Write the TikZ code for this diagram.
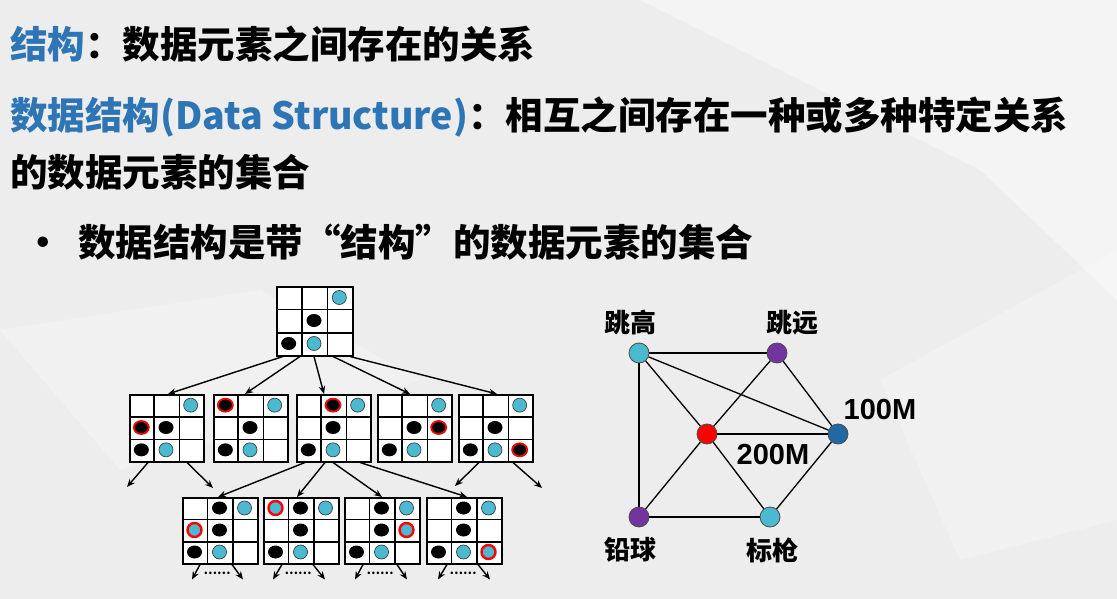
\documentclass[tikz,border=0pt]{standalone}
\usepackage{fontspec}
\usetikzlibrary{arrows.meta,calc,shapes.geometric}
\newfontfamily\cjk{Noto Sans CJK SC}
\newfontfamily\lat{Liberation Sans}
\definecolor{tblue}{HTML}{2E75B6}
\definecolor{dotcyan}{HTML}{4BB9CF}
\definecolor{gpurple}{HTML}{7334A0}
\definecolor{gdblue}{HTML}{1F6AA5}
\definecolor{bgc}{HTML}{EDEDED}

% one 3x3 board: name, x, y (north west), width, height, pieces r/c/style
\newcommand{\drawboard}[6]{%
  \node[boardbox, minimum width=#4pt, minimum height=#5pt, anchor=north west] (#1) at (#2,#3) {};
  \foreach \k in {1,2} {
    \draw[gridline] ($(#1.north west)!\k/3!(#1.north east)$) -- ($(#1.south west)!\k/3!(#1.south east)$);
    \draw[gridline] ($(#1.north west)!\k/3!(#1.south west)$) -- ($(#1.north east)!\k/3!(#1.south east)$);
  }
  \foreach \r/\c/\t in {#6} {
    \node[\t] (#1-\r\c) at ($(#1.north west)+({(\c+0.5)*#4/3},{-(\r+0.5)*#5/3})$) {};
  }%
}

\tikzset{
  txt/.style={font=\cjk\bfseries\fontsize{37.5}{40}\selectfont, inner sep=0pt},
  glabel/.style={font=\cjk\bfseries\fontsize{26}{28}\selectfont, inner sep=0pt},
  nlabel/.style={font=\lat\bfseries\fontsize{29}{30}\selectfont, inner sep=0pt},
  boardbox/.style={draw, fill=white, line width=1.5pt, inner sep=0pt},
  gridline/.style={line width=1.5pt},
  blk/.style={ellipse, fill=black, minimum width=15pt, minimum height=13pt, inner sep=0pt},
  cyn/.style={circle, fill=dotcyan, draw=black!75, line width=0.7pt, minimum size=14pt, inner sep=0pt},
  blkr/.style={blk, draw=red, line width=1.8pt},
  cynr/.style={cyn, draw=red, line width=2.4pt},
  arr/.style={-{Stealth[length=8pt,width=6.5pt]}, line width=1.4pt},
  more/.style={font=\cjk\bfseries\fontsize{12}{12}\selectfont, inner sep=0pt},
  gnode/.style={circle, minimum size=20pt, inner sep=0pt, draw=black!70, line width=0.8pt},
  gedge/.style={line width=1.3pt},
}

\begin{document}
\begin{tikzpicture}[x=1pt,y=1pt]
\useasboundingbox (0,0) rectangle (1117,-599);
% backdrop
\fill[bgc] (0,0) rectangle (1117,-599);
\fill[white, opacity=0.4] (640,0) -- (1117,0) -- (1117,-300) -- (980,-170) -- cycle;
\fill[white, opacity=0.25] (0,-330) -- (260,-290) -- (420,-380) -- (120,-470) -- cycle;
\fill[white, opacity=0.25] (880,-380) -- (1117,-250) -- (1117,-520) -- (960,-560) -- cycle;

% heading text
\node[txt, anchor=base west] (l1) at (10,-59) {\textcolor{tblue}{结构}：数据元素之间存在的关系};
\node[txt, anchor=base west] (l2) at (10,-130) {\textcolor{tblue}{数据结构(Data Structure)}：相互之间存在一种或多种特定关系};
\node[txt, anchor=base west] (l3) at (10,-186) {的数据元素的集合};
\node[txt, anchor=base west] (bul) at (24,-256) {•};
\node[txt, anchor=base west] (l4) at (78,-256) {数据结构是带“结构”的数据元素的集合};

% search tree of boards
\drawboard{top}{276}{-286}{76}{69}{0/2/cyn,1/1/blk,2/0/blk,2/1/cyn}
\drawboard{b1}{129}{-394}{74}{67}{0/2/cyn,1/0/blkr,1/1/blk,2/0/blk,2/1/cyn}
\drawboard{b2}{213}{-394}{74}{67}{0/0/blkr,0/2/cyn,1/1/blk,2/0/blk,2/1/cyn}
\drawboard{b3}{296}{-394}{74}{67}{0/1/blkr,0/2/cyn,1/1/blk,2/0/blk,2/1/cyn}
\drawboard{b4}{377}{-394}{74}{67}{0/2/cyn,1/1/blk,1/2/blkr,2/0/blk,2/1/cyn}
\drawboard{b5}{458}{-394}{74}{67}{0/2/cyn,1/1/blk,2/0/blk,2/1/cyn,2/2/blkr}
\drawboard{cA}{182}{-497}{75}{66}{0/1/blk,0/2/cyn,1/0/cynr,1/1/blk,2/0/blk,2/1/cyn}
\drawboard{cB}{263}{-497}{75}{66}{0/0/cynr,0/1/blk,0/2/cyn,1/1/blk,2/0/blk,2/1/cyn}
\drawboard{cC}{344}{-497}{75}{66}{0/1/blk,0/2/cyn,1/1/blk,1/2/cynr,2/0/blk,2/1/cyn}
\drawboard{cD}{426}{-497}{75}{66}{0/1/blk,0/2/cyn,1/1/blk,2/0/blk,2/1/cyn,2/2/cynr}

% first level
\draw[arr] ([xshift=7]top.south west) -- ([xshift=39]b1.north west);
\draw[arr] ([xshift=24]top.south west) -- ([xshift=32]b2.north west);
\draw[arr] ([xshift=38]top.south west) -- ([xshift=28]b3.north west);
\draw[arr] ([xshift=57]top.south west) -- ([xshift=33]b4.north west);
\draw[arr] ([xshift=74]top.south west) -- ([xshift=39]b5.north west);

% second level
\coordinate (e1) at (127,-487);
\coordinate (e2) at (213,-488);
\coordinate (e3) at (455,-486);
\coordinate (e4) at (542,-488);
\draw[arr] ([xshift=19]b1.south west) -- (e1);
\draw[arr] ([xshift=58]b1.south west) -- (e2);
\draw[arr] ([xshift=21]b5.south west) -- (e3);
\draw[arr] ([xshift=55]b5.south west) -- (e4);
\draw[arr] ([xshift=9]b3.south west) -- ([xshift=36]cA.north west);
\draw[arr] ([xshift=29]b3.south west) -- ([xshift=34]cB.north west);
\draw[arr] ([xshift=37]b3.south west) -- ([xshift=38]cC.north west);
\draw[arr] ([xshift=64]b3.south west) -- ([xshift=41]cD.north west);

% third level
\foreach \b/\p/\q/\u/\v/\m in {cA/18/50/10/61/35, cB/19/50/10/62/35, cC/19/53/11/63/36, cD/21/52/12/64/37} {
  \coordinate (\b-l) at ($(\b.south west)+(\u,-15)$);
  \coordinate (\b-r) at ($(\b.south west)+(\v,-15)$);
  \draw[arr] ([xshift=\p]\b.south west) -- (\b-l);
  \draw[arr] ([xshift=\q]\b.south west) -- (\b-r);
  \node[more] (\b-more) at ($(\b.south west)+(\m,-9)$) {……};
}

% graph of events
\node[gnode, fill=dotcyan] (jg) at (639,-353) {};
\node[gnode, fill=gpurple] (jy) at (777,-353) {};
\node[gnode, fill=red] (mid) at (707,-434) {};
\node[gnode, fill=gdblue] (m100) at (838,-434) {};
\node[gnode, fill=gpurple] (qq) at (639,-517) {};
\node[gnode, fill=dotcyan] (bq) at (770,-517) {};
\draw[gedge] (jg) -- (jy);
\draw[gedge] (jg) -- (m100);
\draw[gedge] (jg) -- (mid);
\draw[gedge] (jg) -- (qq);
\draw[gedge] (jy) -- (mid);
\draw[gedge] (jy) -- (m100);
\draw[gedge] (mid) -- (m100);
\draw[gedge] (mid) -- (qq);
\draw[gedge] (mid) -- (bq);
\draw[gedge] (qq) -- (bq);
\draw[gedge] (bq) -- (m100);
\node[glabel] (tjg) at (630,-323) {跳高};
\node[glabel] (tjy) at (792,-323) {跳远};
\node[nlabel] (t100) at (880,-410) {100M};
\node[nlabel] (t200) at (773,-455) {200M};
\node[glabel] (tqq) at (630,-550) {铅球};
\node[glabel] (tbq) at (772,-550) {标枪};
\end{tikzpicture}
\end{document}
